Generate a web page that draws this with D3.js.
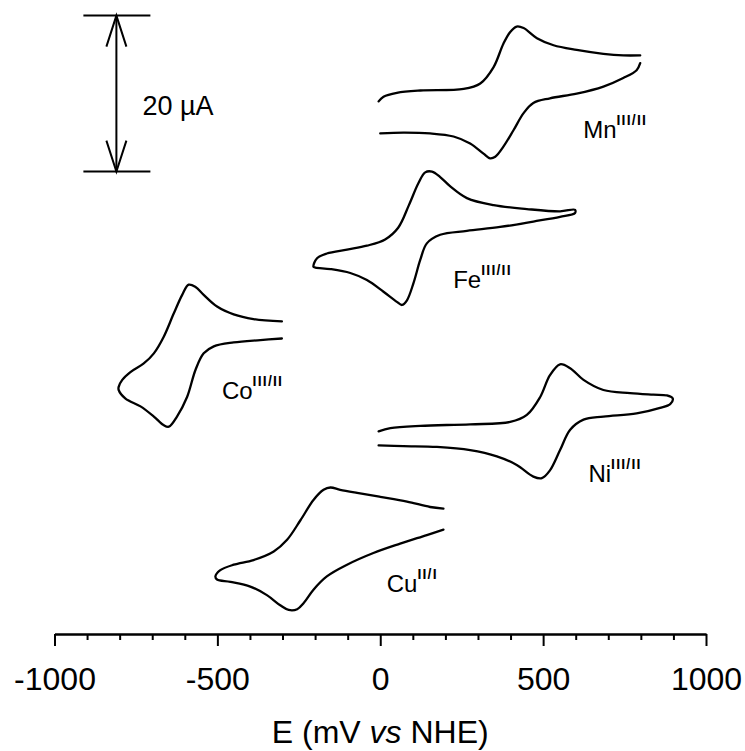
<!DOCTYPE html>
<html><head><meta charset="utf-8">
<script src="https://cdn.jsdelivr.net/npm/d3@7"></script>
<style>body{margin:0;background:#fff}svg{display:block}</style>
</head><body>
<script>
// ---- data (E in mV vs NHE, current in µA incl. vertical offset) ----
const majorTicks = [-1000, -500, 0, 500, 1000];
const minorTicks = [-900,-800,-700,-600,-400,-300,-200,-100,100,200,300,400,600,700,800,900];
const tickLabels = ["-1000", "-500", "0", "500", "1000"];

const mnForward = [[-5,67.0],[10,67.6],[51,68.1],[123,68.4],[256,68.6],[307,69.3],[348,71.4],[378,74.4],[399,75.9],[419,76.6],[440,76.4],[481,75.1],[532,74.2],[603,73.6],[685,73.1],[746,72.9],[798,72.9]];
const mnReverse = [[798,71.9],[787,71.0],[746,70.0],[685,68.9],[603,68.0],[521,67.4],[470,66.8],[440,65.5],[409,63.3],[378,61.2],[353,59.9],[337,59.7],[317,60.3],[276,61.6],[225,62.5],[153,62.9],[71,63.0],[0,62.9]];

const feForward = [[-205,45.8],[-194,46.9],[-164,47.5],[-102,48.0],[-41,48.5],[15,49.3],[55,50.8],[88,53.7],[117,56.5],[138,57.9],[159,58.0],[184,57.3],[215,56.1],[266,54.6],[348,53.7],[450,53.2],[552,52.9],[598,53.1]];
const feReverse = [[598,52.7],[552,52.2],[470,51.6],[368,50.9],[266,50.4],[184,49.9],[143,48.8],[123,46.7],[102,43.7],[82,41.5],[67,40.9],[51,41.3],[10,42.6],[-41,44.1],[-92,45.0],[-153,45.5],[-199,45.7]];

const coForward = [[-803,30.4],[-792,31.3],[-767,32.3],[-726,33.4],[-695,34.7],[-665,36.8],[-634,39.8],[-608,42.2],[-588,43.5],[-567,43.2],[-542,42.2],[-501,40.7],[-450,39.7],[-389,39.1],[-302,38.8]];
const coReverse = [[-302,36.6],[-368,36.4],[-450,36.1],[-511,35.6],[-542,34.7],[-567,32.6],[-593,29.1],[-624,26.6],[-649,25.3],[-665,25.5],[-695,26.6],[-736,27.9],[-782,28.9],[-803,30.0]];

const niForward = [[-5,24.7],[31,25.1],[123,25.4],[276,25.6],[399,25.9],[450,26.8],[491,29.1],[521,31.9],[552,33.3],[583,32.8],[624,31.3],[685,30.0],[767,29.6],[838,29.4],[880,29.3],[898,28.9]];
const niReverse = [[890,28.2],[859,27.7],[787,27.0],[685,26.6],[624,26.2],[583,24.9],[552,22.3],[521,19.7],[496,18.7],[470,18.9],[419,20.4],[358,21.5],[276,22.3],[174,22.7],[71,22.8],[-5,22.9]];

const cuForward = [[-506,6.1],[-491,6.9],[-450,7.6],[-389,8.2],[-327,9.3],[-286,10.8],[-245,13.3],[-205,15.9],[-174,17.2],[-153,17.5],[-123,17.2],[-71,16.8],[0,16.3],[82,15.7],[153,15.0],[194,14.8]];
const cuReverse = [[194,12.1],[143,11.4],[61,10.3],[-21,9.1],[-102,7.6],[-164,6.1],[-205,4.4],[-235,2.7],[-255,1.9],[-281,1.8],[-307,2.4],[-348,3.7],[-399,4.8],[-460,5.4],[-501,5.7]];

const labelNames = ["Mn", "Fe", "Co", "Ni", "Cu"];
const labelSups = ["III/II", "III/II", "III/II", "III/II", "II/I"];
const labelAnchors = [[623,62.3],[224,43.1],[-486,28.9],[639,18.2],[20,4.1]];

const scaleBarE = -810, scaleBarFrom = 58, scaleBarTo = 78, scaleBarLabel = "20 µA";

// ---- drawing ----
const W = 745, H = 751;
const svg = d3.select("body").append("svg").attr("width", W).attr("height", H);
const x = d3.scaleLinear().domain([-1000, 1000]).range([54.5, 706]);
const y = d3.scaleLinear().domain([0, 80]).range([624, 0]);
const axisY = 634;
const font = "Liberation Sans, Arial, Helvetica, sans-serif";

// axis
const gMinor = svg.append("g").attr("transform", `translate(0,${axisY})`)
  .call(d3.axisBottom(x).tickValues(minorTicks).tickSize(6).tickSizeOuter(0).tickFormat(""));
gMinor.select(".domain").attr("stroke-width", 2);
gMinor.selectAll(".tick line").attr("stroke-width", 2);
const gMajor = svg.append("g").attr("transform", `translate(0,${axisY})`)
  .call(d3.axisBottom(x).tickValues(majorTicks).tickSize(12).tickSizeOuter(0)
    .tickFormat((d, i) => tickLabels[i]));
gMajor.select(".domain").attr("stroke-width", 2);
gMajor.selectAll(".tick line").attr("stroke-width", 2);
gMajor.selectAll(".tick text").attr("y", 33).attr("dy", "0.71em")
  .attr("font-family", font).attr("font-size", 32).attr("fill", "#000");

const title = svg.append("text").attr("x", x(0)).attr("y", 743).attr("text-anchor", "middle")
  .attr("font-family", font).attr("font-size", 32);
title.append("tspan").text("E (mV ");
title.append("tspan").attr("font-style", "italic").text("vs");
title.append("tspan").text(" NHE)");

// curves
const line = d3.line().x(d => x(d[0])).y(d => y(d[1])).curve(d3.curveCatmullRom.alpha(0.5));
const closedLine = d3.line().x(d => x(d[0])).y(d => y(d[1])).curve(d3.curveCatmullRomClosed.alpha(0.5));
const paths = [
  [mnForward, line], [mnReverse, line],
  [feForward.concat(feReverse), closedLine],
  [coReverse.concat(coForward), line],
  [niForward.concat(niReverse), line],
  [cuReverse.concat(cuForward), line]
];
svg.append("g").selectAll("path").data(paths).join("path")
  .attr("d", d => d[1](d[0])).attr("fill", "none").attr("stroke", "#000")
  .attr("stroke-width", 2.3).attr("stroke-linejoin", "round").attr("stroke-linecap", "round");

// labels
labelNames.forEach((n, i) => {
  const t = svg.append("text").attr("x", x(labelAnchors[i][0])).attr("y", y(labelAnchors[i][1]))
    .attr("font-family", font).attr("font-size", 24);
  t.append("tspan").text(n);
  t.append("tspan").attr("dy", -13).attr("font-size", 14).attr("font-weight", "bold")
    .attr("letter-spacing", 1.2).text(labelSups[i]);
});

// scale bar
const sb = svg.append("g").attr("stroke", "#000").attr("stroke-width", 2).attr("fill", "none");
const sx = x(scaleBarE), y1 = y(scaleBarTo), y2 = y(scaleBarFrom);
sb.append("line").attr("x1", sx - 33).attr("x2", sx + 34).attr("y1", y1).attr("y2", y1);
sb.append("line").attr("x1", sx - 33).attr("x2", sx + 34).attr("y1", y2).attr("y2", y2);
sb.append("line").attr("x1", sx).attr("x2", sx).attr("y1", y1).attr("y2", y2);
sb.append("path").attr("d", `M${sx-10},${y1+31}L${sx},${y1}L${sx+10},${y1+31}`);
sb.append("path").attr("d", `M${sx-10},${y2-31}L${sx},${y2}L${sx+10},${y2-31}`);
svg.append("text").attr("x", sx + 26).attr("y", y(68) + 21).attr("font-family", font)
  .attr("font-size", 27).text(scaleBarLabel);
</script>
</body></html>
